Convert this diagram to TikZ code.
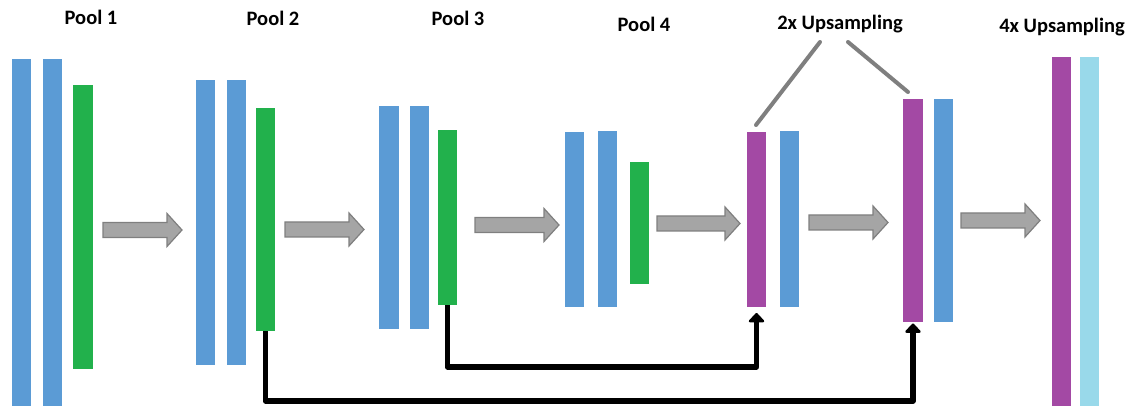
\documentclass[tikz,border=0pt]{standalone}
\usepackage{fontspec}
\setmainfont{Carlito}
\usetikzlibrary{arrows.meta,calc}
\definecolor{cblue}{HTML}{5B9BD5}
\definecolor{cgreen}{HTML}{22B14C}
\definecolor{cpurple}{HTML}{A349A4}
\definecolor{clight}{HTML}{99D9EA}
\definecolor{gfill}{HTML}{A5A5A5}
\definecolor{gline}{HTML}{7F7F7F}
\newcommand{\garrow}[3]{%
  \draw[gline, line width=1.2pt, fill=gfill, line join=miter]
    (#1,#3-7.5) -- (#2-15,#3-7.5) -- (#2-15,#3-16.5) -- (#2,#3) -- (#2-15,#3+16.5) -- (#2-15,#3+7.5) -- (#1,#3+7.5) -- cycle;}
\begin{document}
\begin{tikzpicture}[x=1pt,y=-1pt,
  bar/.style={inner sep=0pt, outer sep=0pt, minimum width=19.5pt},
  lbl/.style={font=\fontsize{20.5}{24}\selectfont\bfseries, text=black, inner sep=0pt},
  skip/.style={line width=5.5pt, -{Triangle[width=18pt,length=10pt,round]}, line join=round},
  callout/.style={gline, line width=4pt, line cap=round}]
\useasboundingbox (0,0) rectangle (1133,406);
% block 1
\node[bar, fill=cblue, minimum height=347pt] (b1a) at (21.5,232.5) {};
\node[bar, fill=cblue, minimum height=347pt] (b1b) at (52.5,232.5) {};
\node[bar, fill=cgreen, minimum height=284pt] (g1) at (83,227) {};
% block 2
\node[bar, fill=cblue, minimum height=285pt] (b2a) at (205.5,222.5) {};
\node[bar, fill=cblue, minimum height=285pt] (b2b) at (236.5,222.5) {};
\node[bar, fill=cgreen, minimum height=223pt] (g2) at (265.5,219.5) {};
% block 3
\node[bar, fill=cblue, minimum height=223pt] (b3a) at (389,217.5) {};
\node[bar, fill=cblue, minimum height=223pt] (b3b) at (419.5,217.5) {};
\node[bar, fill=cgreen, minimum height=175pt] (g3) at (447.5,217.5) {};
% block 4
\node[bar, fill=cblue, minimum height=175pt] (b4a) at (574.5,219.5) {};
\node[bar, fill=cblue, minimum height=176pt] (b4b) at (607.5,219) {};
\node[bar, fill=cgreen, minimum height=122pt] (g4) at (639.5,223) {};
% block 5
\node[bar, fill=cpurple, minimum height=175pt] (p5) at (756.5,219.5) {};
\node[bar, fill=cblue, minimum height=176pt] (b5) at (789.5,219) {};
% block 6
\node[bar, fill=cpurple, minimum height=223pt] (p6) at (913,210.5) {};
\node[bar, fill=cblue, minimum height=223pt] (b6) at (943.5,210.5) {};
% block 7
\node[bar, fill=cpurple, minimum height=349pt] (p7) at (1061.5,231.5) {};
\node[bar, fill=clight, minimum height=349pt] (c7) at (1089.5,231.5) {};
% labels
\node[lbl] (t1) at (91,17) {Pool 1};
\node[lbl] (t2) at (273,18) {Pool 2};
\node[lbl] (t3) at (458,18) {Pool 3};
\node[lbl] (t4) at (644,24) {Pool 4};
\node[lbl] (t5) at (840,24) {2x Upsampling};
\node[lbl] (t6) at (1062,27) {4x Upsampling};
% gray block arrows
\garrow{103}{182}{230}
\garrow{285}{364}{229.5}
\garrow{475}{559}{225}
\garrow{657}{740}{223.5}
\garrow{809}{888}{222.5}
\garrow{961}{1040}{220.5}
% callout lines
\coordinate (ca1) at (756,125);
\coordinate (ca2) at (820,42);
\coordinate (cb1) at (848,42);
\coordinate (cb2) at (908,92);
\draw[callout] (ca1) -- (ca2);
\draw[callout] (cb1) -- (cb2);
% skip connections
\draw[skip, shorten >=6pt] (g3.south) -- (g3.south |- 0,367) -| (p5.south);
\draw[skip, shorten >=1.5pt] (g2.south) -- (g2.south |- 0,401) -| (p6.south);
\end{tikzpicture}
\end{document}
